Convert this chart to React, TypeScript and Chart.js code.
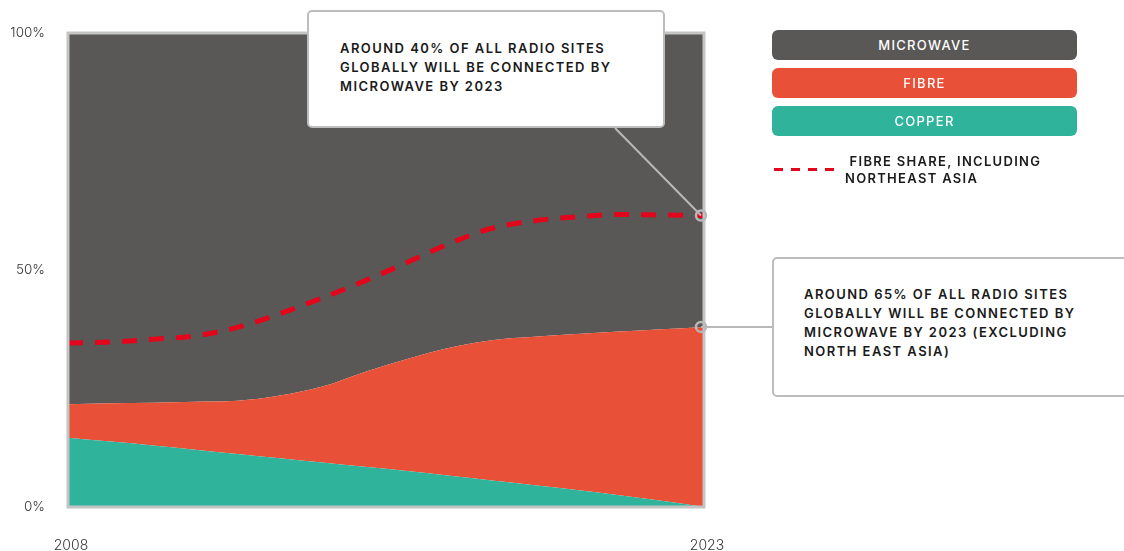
import React, { useEffect, useRef } from "react";
import { Chart, registerables } from "chart.js";

Chart.register(...registerables);

const years = ["2008","2009","2010","2011","2012","2013","2014","2015","2016","2017","2018","2019","2020","2021","2022","2023"];
const copper = [14.6, 13.8, 13.0, 12.1, 11.2, 10.3, 9.4, 8.5, 7.6, 6.6, 5.6, 4.6, 3.6, 2.5, 1.3, 0.0];
const fibre = [7.1, 8.1, 9.0, 10.1, 11.2, 13.2, 16.0, 20.0, 23.6, 27.0, 29.6, 31.3, 32.9, 34.5, 36.2, 38.0];
const microwave = [78.3, 78.1, 78.0, 77.8, 77.6, 76.5, 74.6, 71.5, 68.8, 66.4, 64.8, 64.1, 63.5, 63.0, 62.5, 62.0];
const fibreInclNEA = [34.6, 34.8, 35.4, 36.1, 37.9, 40.8, 44.1, 47.7, 51.6, 55.6, 58.8, 60.4, 61.2, 61.7, 61.6, 61.5];
const yTicks = [0, 50, 100];

const C_MICRO = "#595856";
const C_FIBRE = "#E85037";
const C_COPPER = "#30B39B";
const C_DASH = "#E3051B";
const C_GREY = "#BDBDBD";
const FONT = "Inter, 'DejaVu Sans', sans-serif";

const BOX1 = { left: 307, top: 10, width: 358, height: 118, anchorX: 615 };
const BOX2 = { left: 772, top: 257, width: 380, height: 140 };

export default function App() {
  const ref = useRef<HTMLCanvasElement | null>(null);

  useEffect(() => {
    if (!ref.current) return;
    const framePlugin = {
      id: "frame",
      afterDatasetsDraw(chart: any) {
        const { ctx, chartArea: a } = chart;
        ctx.save();
        ctx.strokeStyle = "#C4C4C4";
        ctx.lineWidth = 3;
        ctx.strokeRect(a.left, a.top, a.right - a.left, a.bottom - a.top);
        const last = years.length - 1;
        const pDash = chart.getDatasetMeta(0).data[last];
        const pFib = chart.getDatasetMeta(2).data[last];
        ctx.strokeStyle = "#B8B8B8";
        ctx.lineWidth = 2;
        const dx = pDash.x - 3;
        const fx = pFib.x - 3;
        ctx.beginPath();
        ctx.moveTo(BOX1.anchorX, BOX1.top + BOX1.height);
        ctx.lineTo(dx, pDash.y);
        ctx.stroke();
        ctx.beginPath();
        ctx.moveTo(fx, pFib.y);
        ctx.lineTo(BOX2.left, pFib.y);
        ctx.stroke();
        ctx.lineWidth = 2.5;
        ctx.beginPath();
        ctx.arc(dx, pDash.y, 5, 0, Math.PI * 2);
        ctx.stroke();
        ctx.beginPath();
        ctx.arc(fx, pFib.y, 5, 0, Math.PI * 2);
        ctx.stroke();
        ctx.restore();
      },
    };

    const chart = new Chart(ref.current, {
      type: "line",
      data: {
        labels: years,
        datasets: [
          {
            label: "Fibre share, including Northeast Asia",
            data: fibreInclNEA,
            stack: "nea",
            borderColor: C_DASH,
            borderWidth: 5,
            borderDash: [15, 12],
            fill: false,
            pointRadius: 0,
            cubicInterpolationMode: "monotone",
          },
          {
            label: "Copper",
            data: copper,
            stack: "main",
            backgroundColor: C_COPPER,
            borderWidth: 0,
            borderColor: C_COPPER,
            fill: "origin",
            pointRadius: 0,
            cubicInterpolationMode: "monotone",
          },
          {
            label: "Fibre",
            data: fibre,
            stack: "main",
            backgroundColor: C_FIBRE,
            borderWidth: 0,
            borderColor: C_FIBRE,
            fill: 1,
            pointRadius: 0,
            cubicInterpolationMode: "monotone",
          },
          {
            label: "Microwave",
            data: microwave,
            stack: "main",
            backgroundColor: C_MICRO,
            borderWidth: 0,
            borderColor: C_MICRO,
            fill: 2,
            pointRadius: 0,
            cubicInterpolationMode: "monotone",
          },
        ],
      },
      options: {
        animation: false,
        responsive: true,
        maintainAspectRatio: false,
        layout: { padding: { left: 0, top: 33, right: 420, bottom: 0 } },
        plugins: { legend: { display: false }, tooltip: { enabled: false } },
        scales: {
          x: {
            type: "category",
            offset: false,
            grid: { display: false, drawTicks: false },
            border: { display: false },
            ticks: {
              autoSkip: false,
              maxRotation: 0,
              padding: 30,
              labelOffset: 3,
              color: "#333",
              font: { family: FONT, size: 14, weight: "300" as any },
              callback: (_v: any, i: number) => (i === 0 || i === years.length - 1 ? years[i] : ""),
            },
            afterFit: (s: any) => { s.height = 44; },
          },
          y: {
            stacked: true,
            min: 0,
            max: 100,
            grid: { display: false, drawTicks: false },
            border: { display: false },
            afterBuildTicks: (s: any) => { s.ticks = yTicks.map((v) => ({ value: v })); },
            ticks: {
              padding: 23,
              color: "#333",
              font: { family: FONT, size: 13.5, weight: "300" as any },
              callback: (v: any) => v + "%",
            },
            afterFit: (s: any) => { s.width = 68; },
          },
        },
      },
      plugins: [framePlugin],
    });
    return () => chart.destroy();
  }, []);

  const annText: React.CSSProperties = {
    fontFamily: FONT,
    fontWeight: 600,
    fontSize: 13,
    letterSpacing: 1.45,
    lineHeight: "19px",
    color: "#1a1a1a",
    position: "absolute",
    whiteSpace: "nowrap",
  };
  const legBox = (top: number, bg: string, text: string) => (
    <div
      style={{
        position: "absolute",
        left: 772,
        top,
        width: 305,
        height: 30,
        borderRadius: 6,
        background: bg,
        color: "#fff",
        fontFamily: FONT,
        fontWeight: 500,
        fontSize: 13,
        letterSpacing: 1.3,
        lineHeight: "30px",
        textAlign: "center",
      }}
    >
      {text}
    </div>
  );

  return (
    <div style={{ position: "absolute", left: 0, top: 0, width: 1124, height: 551, overflow: "hidden", background: "#fff" }}>
      <canvas ref={ref} style={{ position: "absolute", left: 0, top: 0, width: 1124, height: 551 }} />
      <div
        style={{
          position: "absolute",
          left: BOX1.left,
          top: BOX1.top,
          width: BOX1.width,
          height: BOX1.height,
          boxSizing: "border-box",
          border: "2px solid " + C_GREY,
          borderRadius: 5,
          background: "#fff",
        }}
      >
        <div style={{ ...annText, left: 31, top: 27 }}>
          AROUND 40% OF ALL RADIO SITES<br />GLOBALLY WILL BE CONNECTED BY<br />MICROWAVE BY 2023
        </div>
      </div>
      <div
        style={{
          position: "absolute",
          left: BOX2.left,
          top: BOX2.top,
          width: BOX2.width,
          height: BOX2.height,
          boxSizing: "border-box",
          border: "2px solid " + C_GREY,
          borderRadius: 5,
          background: "#fff",
        }}
      >
        <div style={{ ...annText, left: 30, top: 26 }}>
          AROUND 65% OF ALL RADIO SITES<br />GLOBALLY WILL BE CONNECTED BY<br />MICROWAVE BY 2023 (EXCLUDING<br />NORTH EAST ASIA)
        </div>
      </div>
      {legBox(30, C_MICRO, "MICROWAVE")}
      {legBox(68, C_FIBRE, "FIBRE")}
      {legBox(106, C_COPPER, "COPPER")}
      <div
        style={{
          position: "absolute",
          left: 774,
          top: 168,
          width: 60,
          height: 3,
          background: "repeating-linear-gradient(90deg, " + C_DASH + " 0 9px, transparent 9px 17px)",
        }}
      />
      <div
        style={{
          position: "absolute",
          left: 845,
          top: 153,
          fontFamily: FONT,
          fontWeight: 600,
          fontSize: 13,
          letterSpacing: 1.3,
          lineHeight: "17px",
          color: "#1a1a1a",
          whiteSpace: "nowrap",
        }}
      >
        &nbsp;FIBRE SHARE, INCLUDING<br />NORTHEAST ASIA
      </div>
    </div>
  );
}
